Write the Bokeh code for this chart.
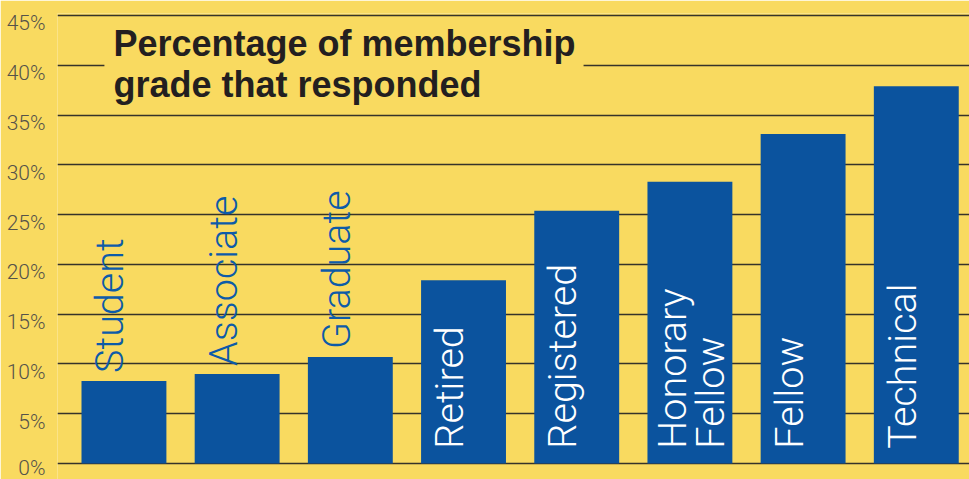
from bokeh.plotting import figure
from bokeh.models import Range1d, FixedTicker, Label, ColumnDataSource
from bokeh.core.properties import value
from bokeh.embed import file_html
from bokeh.resources import INLINE

# ---- data ----
categories = ["Student", "Associate", "Graduate", "Retired", "Registered",
              "Honorary\nFellow", "Fellow", "Technical"]
values = [8.3, 9.0, 10.7, 18.4, 25.4, 28.3, 33.1, 37.9]
y_ticks = [0, 5, 10, 15, 20, 25, 30, 35, 40, 45]
tick_labels = ["0%", "5%", "10%", "15%", "20%", "25%", "30%", "35%", "40%", "45%"]
title_text = "Percentage of membership\ngrade that responded"

BG = "#F9DA60"
BLUE = "#0B539E"
LABEL_BLUE = "#0D5BA8"

X0, X1 = -0.587, 7.47
LABEL_DROP = 0.8  # tick labels hang just below their grid line
p = figure(width=969, height=479, output_backend="svg", toolbar_location=None,
           x_range=Range1d(X0, X1), y_range=Range1d(-1.6, 45.2),
           min_border_left=57, min_border_right=0, min_border_top=13,
           min_border_bottom=0)
p.background_fill_color = BG
p.border_fill_color = BG
p.outline_line_color = None

p.xaxis.visible = False
p.xgrid.visible = False

label_pos = [round(t - LABEL_DROP, 6) for t in y_ticks]
p.yaxis.ticker = FixedTicker(ticks=label_pos)
p.yaxis.major_label_overrides = {lp: lab for lp, lab in zip(label_pos, tick_labels)}
p.yaxis.axis_line_color = None
p.yaxis.major_tick_line_color = None
p.yaxis.minor_tick_line_color = None
p.yaxis.major_label_standoff = 6
p.yaxis.major_label_text_font = "Roboto Light"
p.yaxis.major_label_text_font_size = "21px"
p.yaxis.major_label_text_color = "#55524a"

p.ygrid.ticker = FixedTicker(ticks=y_ticks)
p.ygrid.grid_line_color = "#36332a"
p.ygrid.grid_line_width = 1.6

spacing_px = 912 / (X1 - X0)

xs = list(range(len(categories)))
p.vbar(x=xs, top=values, bottom=0, width=0.75, color=BLUE, line_color=None)

# ---- category labels (rotated) ----
line_px = 38
lx, ly, lt, lc = [], [], [], []
for i, (cat, v) in enumerate(zip(categories, values)):
    lines = cat.split("\n")
    inside = v > 15
    n = len(lines)
    for j, ln in enumerate(lines):
        off_px = -14 + (j - (n - 1)) * line_px + (n - 1) * 35
        lx.append(i + off_px / spacing_px)
        ly.append(1.5 if inside else v + 0.8)
        lt.append(ln)
        lc.append("white" if inside else LABEL_BLUE)

src = ColumnDataSource(dict(x=lx, y=ly, text=lt, color=lc))
p.text(x="x", y="y", text="text", source=src, angle=1.5708,
       text_color="color", text_font=value("Roboto Light"),
       text_font_size="39.5px", text_align="left", text_baseline="alphabetic")

# ---- title ----
title = Label(x=-0.093 - 9 / spacing_px, y=44.6, text=title_text,
              text_font="Liberation Sans",
              text_font_style="bold", text_font_size="36px", text_color="#231F20",
              text_baseline="top", text_align="left", text_line_height=1.0,
              background_fill_color=BG,
              padding=dict(left=9, right=8, top=4, bottom=0))
p.add_layout(title)

open("out.html", "w").write(file_html(p, INLINE))
